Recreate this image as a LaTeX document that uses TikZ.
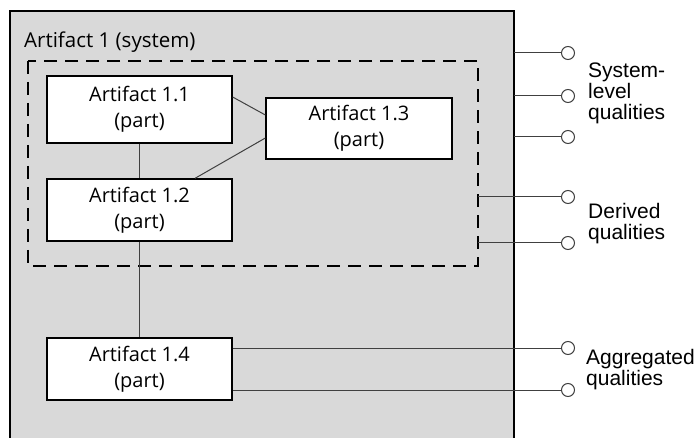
\documentclass[tikz,border=0pt]{standalone}
\usepackage{fontspec}
\setmainfont{Open Sans}
\newfontfamily\labelfont{Liberation Sans}
\usetikzlibrary{calc}
\definecolor{sysfill}{HTML}{D9D9D9}
\definecolor{wire}{HTML}{404040}

\begin{document}
\begin{tikzpicture}[x=1pt,y=-1pt,
  part/.style={draw=black, line width=1.3pt, fill=white, minimum width=185pt,
    minimum height=62pt, inner sep=0pt, align=center,
    font=\fontsize{20}{26}\selectfont},
  link/.style={draw=wire, line width=1pt},
  port/.style={circle, draw=wire, fill=white, line width=1pt, minimum size=13pt, inner sep=0pt},
  qual/.style={font=\labelfont\fontsize{21}{21}\selectfont, align=left, anchor=west, inner sep=0pt}]
\useasboundingbox (0,0) rectangle (696,438);

% system boundary (open at the bottom)
\fill[sysfill] (10,11) rectangle (514,438);
\draw[line width=1.3pt] (10,438) -- (10,11) -- (514,11) -- (514,438);
\node[anchor=west, inner sep=0pt, font=\fontsize{20.5}{24}\selectfont] (title) at (24,42) {Artifact 1 (system)};

% dashed group of derived parts
\draw[line width=1.4pt, dash pattern=on 13pt off 8pt] (28,61) rectangle (478,266);

% parts
\node[part, minimum height=67pt] (a11) at (139.5,109.5) {Artifact 1.1\\(part)};
\node[part] (a12) at (139.5,210) {Artifact 1.2\\(part)};
\node[part, minimum width=186pt, minimum height=61pt] (a13) at (359,128.5) {Artifact 1.3\\(part)};
\node[part] (a14) at (139.5,369) {Artifact 1.4\\(part)};

% links between parts
\draw[link] (a11.south) -- (a12.north);
\draw[link] ([yshift=12.5pt]a11.east) -- ([yshift=13.5pt]a13.west);
\draw[link] ([xshift=55.5pt]a12.north) -- ([yshift=-9.5pt]a13.west);
\draw[link] (a12.south) -- (a14.north);

% quality ports
\foreach \n/\y in {q1/53, q2/96, q3/137, d1/197, d2/243, g1/348, g2/390}
  \node[port] (\n) at (568,\y) {};

\coordinate (s1) at (514,53);
\coordinate (s2) at (514,96);
\coordinate (s3) at (514,137);
\coordinate (e1) at (478,197);
\coordinate (e2) at (478,243);
\draw[link] (s1) -- (q1.west);
\draw[link] (s2) -- (q2.west);
\draw[link] (s3) -- (q3.west);
\draw[link] (e1) -- (d1.west);
\draw[link] (e2) -- (d2.west);
\draw[link] (a14.east |- g1) -- (g1.west);
\draw[link] (a14.east |- g2) -- (g2.west);

% quality labels
\node[qual] (lsys) at (588,93) {System-\\level\\qualities};
\node[qual] (lder) at (588,224) {Derived\\qualities};
\node[qual] (lagg) at (586,370) {Aggregated\\qualities};
\end{tikzpicture}
\end{document}
